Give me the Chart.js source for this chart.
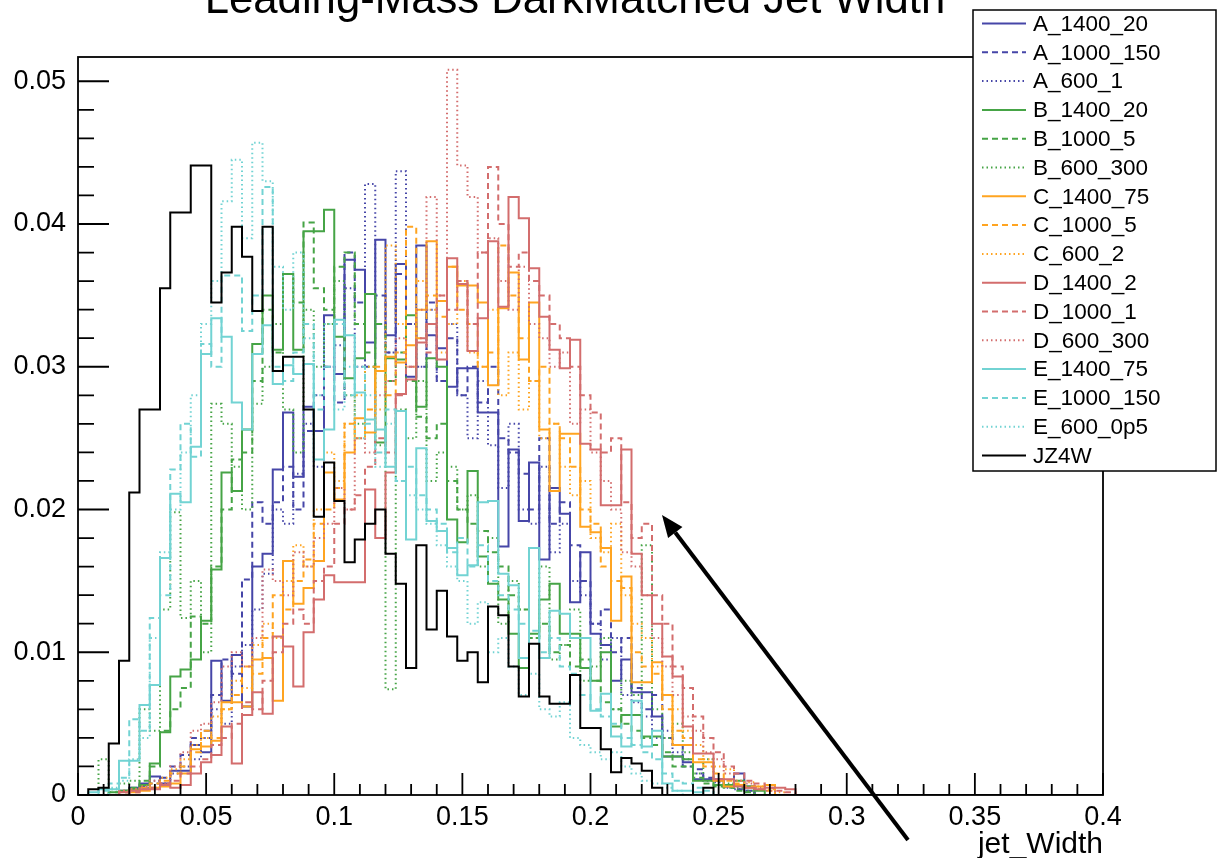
<!DOCTYPE html>
<html>
<head>
<meta charset="utf-8">
<script src="https://cdn.jsdelivr.net/npm/chart.js@4.4.0/dist/chart.umd.min.js"></script>
<style>
  html, body { margin: 0; padding: 0; background: #fff; }
  #c { display: block; }
</style>
</head>
<body>
<canvas id="c" width="1217" height="858"></canvas>
<script>
"use strict";

// binning of the histograms (100 bins over 0 - 0.4)
const binWidth = 0.004;
const nBins = 100;
const yMax = 0.0517;

const xTickLabels = ['0', '0.05', '0.1', '0.15', '0.2', '0.25', '0.3', '0.35', '0.4'];
const yTickLabels = ['0', '0.01', '0.02', '0.03', '0.04', '0.05'];

// bin contents, starting at bin 0 (0 - 0.004); bins past the end of a list are empty
const A_1400_20 = [
  0, 0, 0, 0, 0.0003, 0.0005, 0.0008, 0.0013, 0.0008, 0.0017,
  0.0017, 0.0035, 0.0030, 0.0094, 0.0066, 0.0098, 0.0062, 0.0160, 0.0169, 0.0228,
  0.0268, 0.0223, 0.0272, 0.0255, 0.0336, 0.0295, 0.0375, 0.0368, 0.0317, 0.0389,
  0.0322, 0.0372, 0.0293, 0.0385, 0.0322, 0.0313, 0.0286, 0.0299, 0.0299, 0.0268,
  0.0268, 0.0174, 0.0242, 0.0192, 0.0233, 0.0165, 0.0215, 0.0197, 0.0135, 0.0170,
  0.0113, 0.0105, 0.0080, 0.0095, 0.0072, 0.0072, 0.0055, 0.0027, 0.0027, 0.0023,
  0.0011, 0.0011, 0.0011, 0.0006, 0.0015, 0.0006
];
const A_1000_150 = [
  0, 0, 0, 0, 0.0002, 0.0004, 0.0006, 0.0008, 0.0012, 0.0020,
  0.0028, 0.0040, 0.0045, 0.0070, 0.0095, 0.0085, 0.0151, 0.0205, 0.0190, 0.0205,
  0.0230, 0.0200, 0.0255, 0.0280, 0.0300, 0.0275, 0.0380, 0.0345, 0.0300, 0.0350,
  0.0310, 0.0365, 0.0330, 0.0300, 0.0345, 0.0290, 0.0320, 0.0280, 0.0300, 0.0275,
  0.0300, 0.0250, 0.0240, 0.0225, 0.0200, 0.0250, 0.0190, 0.0205, 0.0175, 0.0150,
  0.0120, 0.0130, 0.0100, 0.0110, 0.0075, 0.0060, 0.0070, 0.0040, 0.0035, 0.0020,
  0.0018, 0.0012, 0.0010, 0.0006, 0.0004, 0.0003
];
const A_600_1 = [
  0, 0, 0, 0, 0, 0.0003, 0.0005, 0.0010, 0.0008, 0.0015,
  0.0020, 0.0025, 0.0040, 0.0060, 0.0050, 0.0090, 0.0105, 0.0130, 0.0155, 0.0200,
  0.0190, 0.0225, 0.0260, 0.0230, 0.0300, 0.0315, 0.0355, 0.0300, 0.0428, 0.0330,
  0.0310, 0.0437, 0.0330, 0.0300, 0.0340, 0.0290, 0.0330, 0.0280, 0.0250, 0.0290,
  0.0245, 0.0215, 0.0260, 0.0200, 0.0190, 0.0230, 0.0170, 0.0190, 0.0150, 0.0140,
  0.0120, 0.0095, 0.0110, 0.0070, 0.0065, 0.0055, 0.0040, 0.0045, 0.0030, 0.0025,
  0.0015, 0.0010, 0.0009, 0.0005, 0.0004, 0.0003
];
const B_1400_20 = [
  0, 0, 0, 0.0002, 0.0003, 0.0004, 0.0007, 0.0022, 0.0044, 0.0083,
  0.0088, 0.0095, 0.0122, 0.0158, 0.0226, 0.0213, 0.0256, 0.0316, 0.0350, 0.0312,
  0.0365, 0.0312, 0.0395, 0.0395, 0.0410, 0.0321, 0.0292, 0.0306, 0.0351, 0.0247,
  0.0306, 0.0305, 0.0336, 0.0272, 0.0306, 0.0300, 0.0193, 0.0177, 0.0227, 0.0167,
  0.0148, 0.0137, 0.0113, 0.0089, 0.0113, 0.0137, 0.0148, 0.0113, 0.0113, 0.0089,
  0.0080, 0.0100, 0.0048, 0.0056, 0.0056, 0.0041, 0.0041, 0.0027, 0.0027, 0.0025,
  0.0010, 0.0010, 0.0007, 0.0007, 0.0010, 0.0006, 0.0003
];
const B_1000_5 = [
  0, 0, 0, 0.0002, 0.0003, 0.0005, 0.0010, 0.0020, 0.0045, 0.0060,
  0.0075, 0.0125, 0.0120, 0.0160, 0.0200, 0.0235, 0.0240, 0.0290, 0.0340, 0.0310,
  0.0365, 0.0345, 0.0401, 0.0355, 0.0340, 0.0370, 0.0380, 0.0330, 0.0310, 0.0330,
  0.0290, 0.0310, 0.0290, 0.0265, 0.0250, 0.0260, 0.0220, 0.0200, 0.0190, 0.0185,
  0.0170, 0.0160, 0.0140, 0.0130, 0.0110, 0.0120, 0.0100, 0.0105, 0.0090, 0.0095,
  0.0080, 0.0065, 0.0060, 0.0050, 0.0045, 0.0040, 0.0035, 0.0030, 0.0020, 0.0020,
  0.0012, 0.0008, 0.0006, 0.0005, 0.0003, 0.0002
];
const B_600_300 = [
  0, 0, 0.0025, 0.0004, 0.0008, 0.0010, 0.0060, 0.0045, 0.0130, 0.0198,
  0.0124, 0.0150, 0.0100, 0.0274, 0.0260, 0.0230, 0.0200, 0.0274, 0.0300, 0.0330,
  0.0270, 0.0240, 0.0340, 0.0300, 0.0330, 0.0360, 0.0280, 0.0260, 0.0300, 0.0245,
  0.0074, 0.0270, 0.0250, 0.0290, 0.0220, 0.0240, 0.0230, 0.0200, 0.0210, 0.0160,
  0.0180, 0.0120, 0.0150, 0.0130, 0.0110, 0.0160, 0.0095, 0.0105, 0.0130, 0.0080,
  0.0090, 0.0110, 0.0060, 0.0080, 0.0070, 0.0175, 0.0060, 0.0040, 0.0050, 0.0030,
  0.0015, 0.0025, 0.0010, 0.0008, 0.0005, 0.0003
];
const C_1400_75 = [
  0, 0, 0, 0, 0, 0.0002, 0.0003, 0.0005, 0.0006, 0.0008,
  0.0015, 0.0032, 0.0034, 0.0038, 0.0065, 0.0065, 0.0062, 0.0095, 0.0096, 0.0066,
  0.0164, 0.0134, 0.0145, 0.0164, 0.0226, 0.0207, 0.0240, 0.0264, 0.0254, 0.0297,
  0.0307, 0.0303, 0.0315, 0.0340, 0.0388, 0.0346, 0.0370, 0.0357, 0.0357, 0.0345,
  0.0287, 0.0341, 0.0366, 0.0305, 0.0345, 0.0256, 0.0213, 0.0253, 0.0253, 0.0188,
  0.0184, 0.0173, 0.0122, 0.0153, 0.0079, 0.0079, 0.0093, 0.0070, 0.0035, 0.0035,
  0.0023, 0.0023, 0.0010, 0.0006, 0.0007, 0.0005, 0.0006, 0.0007
];
const C_1000_5 = [
  0, 0, 0, 0, 0.0002, 0.0003, 0.0005, 0.0008, 0.0010, 0.0015,
  0.0020, 0.0030, 0.0045, 0.0040, 0.0060, 0.0070, 0.0090, 0.0085, 0.0110, 0.0140,
  0.0130, 0.0150, 0.0165, 0.0190, 0.0200, 0.0215, 0.0260, 0.0250, 0.0270, 0.0300,
  0.0280, 0.0310, 0.0398, 0.0320, 0.0350, 0.0335, 0.0370, 0.0340, 0.0330, 0.0300,
  0.0310, 0.0385, 0.0350, 0.0320, 0.0290, 0.0300, 0.0260, 0.0250, 0.0230, 0.0200,
  0.0190, 0.0160, 0.0150, 0.0145, 0.0100, 0.0090, 0.0085, 0.0060, 0.0045, 0.0040,
  0.0025, 0.0020, 0.0015, 0.0010, 0.0008, 0.0006, 0.0004, 0.0003
];
const C_600_2 = [
  0, 0, 0, 0, 0.0003, 0.0004, 0.0006, 0.0005, 0.0012, 0.0018,
  0.0025, 0.0035, 0.0040, 0.0055, 0.0060, 0.0080, 0.0075, 0.0105, 0.0120, 0.0110,
  0.0150, 0.0175, 0.0160, 0.0200, 0.0240, 0.0220, 0.0260, 0.0280, 0.0300, 0.0270,
  0.0385, 0.0330, 0.0300, 0.0360, 0.0340, 0.0310, 0.0330, 0.0360, 0.0310, 0.0300,
  0.0340, 0.0280, 0.0310, 0.0270, 0.0290, 0.0250, 0.0260, 0.0230, 0.0210, 0.0220,
  0.0180, 0.0170, 0.0190, 0.0140, 0.0120, 0.0110, 0.0090, 0.0070, 0.0060, 0.0045,
  0.0035, 0.0025, 0.0020, 0.0018, 0.0010, 0.0009, 0.0006, 0.0004, 0.0002
];
const D_1400_2 = [
  0, 0, 0, 0, 0.0002, 0.0003, 0.0004, 0.0004, 0.0007, 0.0005,
  0.0007, 0.0015, 0.0023, 0.0028, 0.0048, 0.0022, 0.0056, 0.0072, 0.0057, 0.0111,
  0.0104, 0.0076, 0.0114, 0.0137, 0.0154, 0.0149, 0.0149, 0.0149, 0.0214, 0.0180,
  0.0226, 0.0281, 0.0291, 0.0317, 0.0330, 0.0305, 0.0376, 0.0358, 0.0311, 0.0334,
  0.0388, 0.0342, 0.0419, 0.0404, 0.0369, 0.0335, 0.0312, 0.0299, 0.0319, 0.0246,
  0.0242, 0.0203, 0.0203, 0.0242, 0.0169, 0.0140, 0.0120, 0.0097, 0.0083, 0.0048,
  0.0029, 0.0029, 0.0011, 0.0011, 0.0006, 0.0005, 0.0004, 0.0005, 0.0005, 0.0004
];
const D_1000_1 = [
  0, 0, 0, 0, 0, 0.0002, 0.0004, 0.0005, 0.0008, 0.0010,
  0.0015, 0.0020, 0.0025, 0.0035, 0.0040, 0.0050, 0.0065, 0.0060, 0.0080, 0.0100,
  0.0120, 0.0130, 0.0120, 0.0150, 0.0160, 0.0190, 0.0200, 0.0210, 0.0230, 0.0250,
  0.0240, 0.0280, 0.0300, 0.0320, 0.0310, 0.0350, 0.0340, 0.0360, 0.0330, 0.0380,
  0.0440, 0.0400, 0.0370, 0.0380, 0.0360, 0.0350, 0.0330, 0.0320, 0.0300, 0.0280,
  0.0268, 0.0240, 0.0250, 0.0205, 0.0180, 0.0190, 0.0140, 0.0120, 0.0090, 0.0075,
  0.0055, 0.0040, 0.0030, 0.0020, 0.0015, 0.0010, 0.0008, 0.0005, 0.0003, 0.0002
];
const D_600_300 = [
  0, 0, 0, 0, 0.0003, 0.0004, 0.0006, 0.0010, 0.0008, 0.0020,
  0.0030, 0.0045, 0.0050, 0.0065, 0.0090, 0.0100, 0.0090, 0.0110, 0.0158, 0.0150,
  0.0140, 0.0170, 0.0160, 0.0180, 0.0190, 0.0215, 0.0200, 0.0250, 0.0240, 0.0280,
  0.0290, 0.0320, 0.0300, 0.0340, 0.0419, 0.0350, 0.0508, 0.0441, 0.0419, 0.0380,
  0.0390, 0.0360, 0.0340, 0.0370, 0.0330, 0.0320, 0.0300, 0.0310, 0.0260, 0.0270,
  0.0240, 0.0220, 0.0200, 0.0170, 0.0160, 0.0140, 0.0110, 0.0090, 0.0070, 0.0055,
  0.0045, 0.0030, 0.0025, 0.0015, 0.0010, 0.0008, 0.0005, 0.0003
];
const E_1400_75 = [
  0, 0.0002, 0.0004, 0.0004, 0.0024, 0.0024, 0.0063, 0.0077, 0.0166, 0.0211,
  0.0205, 0.0244, 0.0309, 0.0334, 0.0321, 0.0275, 0.0256, 0.0309, 0.0329, 0.0288,
  0.0301, 0.0295, 0.0302, 0.0235, 0.0256, 0.0333, 0.0322, 0.0282, 0.0263, 0.0256,
  0.0230, 0.0269, 0.0179, 0.0243, 0.0192, 0.0185, 0.0173, 0.0154, 0.0161, 0.0205,
  0.0206, 0.0155, 0.0147, 0.0096, 0.0173, 0.0096, 0.0129, 0.0127, 0.0110, 0.0110,
  0.0059, 0.0071, 0.0041, 0.0034, 0.0066, 0.0034, 0.0045, 0.0008, 0.0003, 0.0003,
  0.0002
];
const E_1000_150 = [
  0, 0, 0.0003, 0.0008, 0.0012, 0.0053, 0.0045, 0.0124, 0.0140, 0.0228,
  0.0260, 0.0237, 0.0316, 0.0300, 0.0364, 0.0364, 0.0325, 0.0350, 0.0426, 0.0300,
  0.0290, 0.0310, 0.0330, 0.0270, 0.0300, 0.0330, 0.0280, 0.0300, 0.0260, 0.0240,
  0.0270, 0.0220, 0.0230, 0.0210, 0.0200, 0.0190, 0.0170, 0.0180, 0.0160, 0.0175,
  0.0150, 0.0140, 0.0130, 0.0120, 0.0115, 0.0100, 0.0110, 0.0090, 0.0085, 0.0070,
  0.0060, 0.0055, 0.0050, 0.0040, 0.0035, 0.0030, 0.0025, 0.0015, 0.0010, 0.0008,
  0.0005, 0.0003
];
const E_600_0p5 = [
  0, 0, 0, 0.0005, 0.0010, 0.0025, 0.0040, 0.0110, 0.0170, 0.0200,
  0.0240, 0.0280, 0.0330, 0.0360, 0.0416, 0.0445, 0.0390, 0.0457, 0.0430, 0.0370,
  0.0340, 0.0380, 0.0320, 0.0280, 0.0330, 0.0270, 0.0300, 0.0250, 0.0280, 0.0230,
  0.0260, 0.0220, 0.0210, 0.0200, 0.0190, 0.0175, 0.0160, 0.0150, 0.0120, 0.0135,
  0.0100, 0.0110, 0.0090, 0.0070, 0.0085, 0.0060, 0.0055, 0.0065, 0.0040, 0.0035,
  0.0030, 0.0025, 0.0030, 0.0020, 0.0015, 0.0010, 0.0008, 0.0005, 0.0003
];
const JZ4W = [
  0, 0.0004, 0.0005, 0.0036, 0.0094, 0.0212, 0.0270, 0.0270, 0.0355, 0.0408,
  0.0408, 0.0441, 0.0441, 0.0345, 0.0366, 0.0398, 0.0377, 0.0339, 0.0398, 0.0297,
  0.0307, 0.0307, 0.0270, 0.0195, 0.0233, 0.0206, 0.0163, 0.0179, 0.0190, 0.0200,
  0.0169, 0.0148, 0.0089, 0.0175, 0.0116, 0.0143, 0.0111, 0.0094, 0.0100, 0.0079,
  0.0132, 0.0126, 0.0090, 0.0069, 0.0106, 0.0069, 0.0064, 0.0064, 0.0084, 0.0047,
  0.0047, 0.0032, 0.0016, 0.0026, 0.0022, 0.0017, 0.0005, 0, 0, 0,
  0, 0.0005
];

// colours and line styles (ROOT-like)
const palette = { A: '#4646a8', B: '#46a446', C: '#ffa420', D: '#d36d6d', E: '#72d3d3', J: '#000000' };
const dashStyles = { solid: [], dashed: [6, 4], dotted: [1.5, 3] };

const series = [
  { name: 'A_1400_20', data: A_1400_20, color: palette.A, dash: 'solid' },
  { name: 'A_1000_150', data: A_1000_150, color: palette.A, dash: 'dashed' },
  { name: 'A_600_1', data: A_600_1, color: palette.A, dash: 'dotted' },
  { name: 'B_1400_20', data: B_1400_20, color: palette.B, dash: 'solid' },
  { name: 'B_1000_5', data: B_1000_5, color: palette.B, dash: 'dashed' },
  { name: 'B_600_300', data: B_600_300, color: palette.B, dash: 'dotted' },
  { name: 'C_1400_75', data: C_1400_75, color: palette.C, dash: 'solid' },
  { name: 'C_1000_5', data: C_1000_5, color: palette.C, dash: 'dashed' },
  { name: 'C_600_2', data: C_600_2, color: palette.C, dash: 'dotted' },
  { name: 'D_1400_2', data: D_1400_2, color: palette.D, dash: 'solid' },
  { name: 'D_1000_1', data: D_1000_1, color: palette.D, dash: 'dashed' },
  { name: 'D_600_300', data: D_600_300, color: palette.D, dash: 'dotted' },
  { name: 'E_1400_75', data: E_1400_75, color: palette.E, dash: 'solid' },
  { name: 'E_1000_150', data: E_1000_150, color: palette.E, dash: 'dashed' },
  { name: 'E_600_0p5', data: E_600_0p5, color: palette.E, dash: 'dotted' },
  { name: 'JZ4W', data: JZ4W, color: palette.J, dash: 'solid' }
];

const FONT = '"Liberation Sans", Arial, Helvetica, sans-serif';

// points at bin low edges, drawn as steps, closed at the last high edge
function histPoints(vals) {
  const pts = [];
  for (let i = 0; i < nBins; i++) {
    pts.push({ x: i * binWidth, y: vals[i] || 0 });
  }
  pts.push({ x: nBins * binWidth, y: 0 });
  return pts;
}

// frame box and ROOT style tick marks inside the frame
const frameTicks = {
  id: 'frameTicks',
  afterDatasetsDraw(chart) {
    const { ctx, chartArea: a, scales } = chart;
    const xs = scales.x, ys = scales.y;
    ctx.save();
    ctx.strokeStyle = '#000';
    ctx.lineWidth = 1.8;
    ctx.strokeRect(a.left, a.top, a.right - a.left, a.bottom - a.top);
    ctx.beginPath();
    for (let k = 0; k <= 40; k++) {
      const px = xs.getPixelForValue(k * 0.01);
      const len = k % 5 === 0 ? 22 : 11;
      ctx.moveTo(px, a.bottom);
      ctx.lineTo(px, a.bottom - len);
    }
    for (let k = 0; k * 0.002 <= yMax; k++) {
      const py = ys.getPixelForValue(k * 0.002);
      const len = k % 5 === 0 ? 31 : 16;
      ctx.moveTo(a.left, py);
      ctx.lineTo(a.left + len, py);
    }
    ctx.stroke();
    ctx.restore();
  }
};

// title, x axis title, legend box and the hand drawn arrow
const overlay = {
  id: 'overlay',
  afterDraw(chart) {
    const ctx = chart.ctx;
    const a = chart.chartArea;
    ctx.save();

    // title, partly cut at the top like the original
    const title = 'Leading-Mass DarkMatched Jet Width';
    ctx.font = '40px ' + FONT;
    const w40 = ctx.measureText(title).width;
    const size = 40 * 740 / w40;
    ctx.font = size.toFixed(1) + 'px ' + FONT;
    ctx.fillStyle = '#000';
    ctx.textAlign = 'center';
    ctx.textBaseline = 'alphabetic';
    ctx.fillText(title, 575, 13);

    // x axis title
    ctx.font = '30px ' + FONT;
    ctx.textAlign = 'right';
    ctx.fillText('jet_Width', a.right, 853);

    // legend
    const lx = 973, ly = 10, lw = 243, lh = 461;
    ctx.fillStyle = '#fff';
    ctx.fillRect(lx, ly, lw, lh);
    ctx.strokeStyle = '#000';
    ctx.lineWidth = 1.5;
    ctx.strokeRect(lx, ly, lw, lh);
    ctx.font = '22.5px ' + FONT;
    ctx.textAlign = 'left';
    ctx.textBaseline = 'middle';
    series.forEach((s, i) => {
      const yy = 23.5 + i * 28.8;
      ctx.strokeStyle = s.color;
      ctx.lineWidth = 2;
      ctx.setLineDash(dashStyles[s.dash]);
      ctx.beginPath();
      ctx.moveTo(982, yy);
      ctx.lineTo(1026, yy);
      ctx.stroke();
      ctx.setLineDash([]);
      ctx.fillStyle = '#000';
      ctx.fillText(s.name, 1033, yy + 1);
    });

    // arrow
    const x0 = 908, y0 = 840, x1 = 662, y1 = 515;
    const ang = Math.atan2(y1 - y0, x1 - x0);
    const headLen = 22, headW = 9;
    const bx = x1 - headLen * Math.cos(ang), by = y1 - headLen * Math.sin(ang);
    ctx.strokeStyle = '#000';
    ctx.lineWidth = 4;
    ctx.beginPath();
    ctx.moveTo(x0, y0);
    ctx.lineTo(bx, by);
    ctx.stroke();
    ctx.fillStyle = '#000';
    ctx.beginPath();
    ctx.moveTo(x1, y1);
    ctx.lineTo(bx + headW * Math.sin(ang), by - headW * Math.cos(ang));
    ctx.lineTo(bx - headW * Math.sin(ang), by + headW * Math.cos(ang));
    ctx.closePath();
    ctx.fill();

    ctx.restore();
  }
};

(() => {
  const canvas = document.getElementById('c');

  const datasets = series.map((s, i) => ({
    label: s.name,
    data: histPoints(s.data),
    borderColor: s.color,
    backgroundColor: s.color,
    borderWidth: 2,
    borderDash: dashStyles[s.dash],
    stepped: 'before',
    pointRadius: 0,
    fill: false,
    order: series.length - i
  }));

  new Chart(canvas, {
    type: 'line',
    data: { datasets },
    options: {
      responsive: false,
      animation: false,
      events: [],
      layout: { padding: { left: 0, right: 114, top: 57, bottom: 0 } },
      plugins: {
        legend: { display: false },
        tooltip: { enabled: false },
        title: { display: false }
      },
      scales: {
        x: {
          type: 'linear',
          min: 0,
          max: nBins * binWidth,
          grid: { display: false, drawTicks: false },
          border: { display: false },
          ticks: {
            stepSize: 0.05,
            includeBounds: false,
            autoSkip: false,
            maxRotation: 0,
            padding: 6,
            color: '#000',
            font: { family: FONT, size: 27 },
            callback: (v) => xTickLabels[Math.round(v / 0.05)]
          },
          afterFit: (scale) => { scale.height = 63; }
        },
        y: {
          type: 'linear',
          min: 0,
          max: yMax,
          grid: { display: false, drawTicks: false },
          border: { display: false },
          ticks: {
            stepSize: 0.01,
            includeBounds: false,
            padding: 12,
            color: '#000',
            font: { family: FONT, size: 27 },
            callback: (v) => yTickLabels[Math.round(v / 0.01)]
          },
          afterFit: (scale) => { scale.width = 78; }
        }
      }
    },
    plugins: [frameTicks, overlay]
  });
})();
</script>
</body>
</html>
